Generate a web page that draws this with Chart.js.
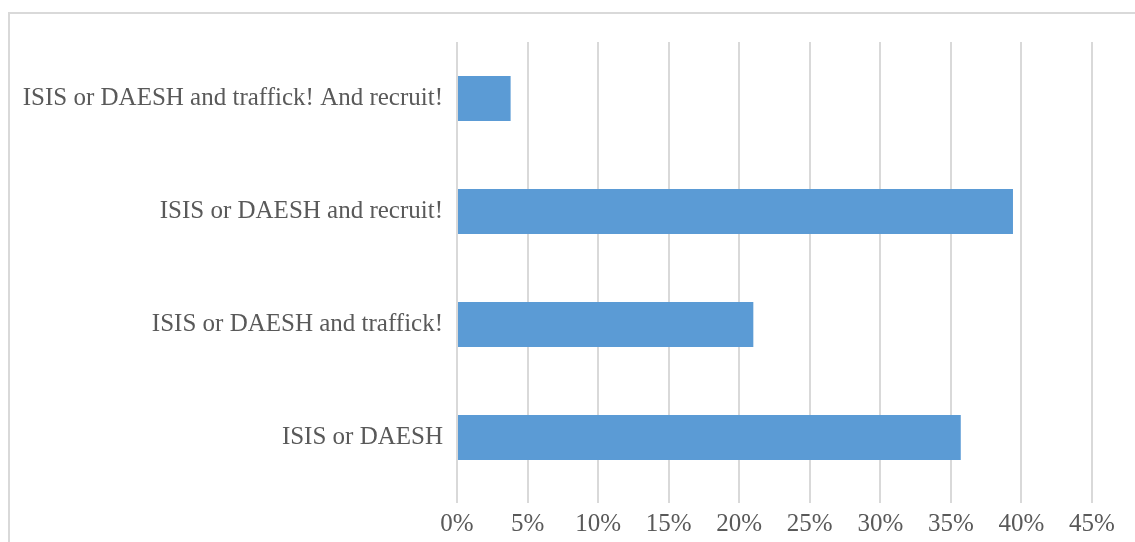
<!DOCTYPE html>
<html>
<head>
<meta charset="utf-8">
<script src="https://cdn.jsdelivr.net/npm/chart.js@4"></script>
<style>
  html, body { margin: 0; padding: 0; background: #fff; }
  #wrap { position: relative; width: 1135px; height: 542px; overflow: hidden; }
  #frame { position: absolute; left: 8px; top: 12px; width: 1200px; height: 600px; border: 2px solid #d9d9d9; }
  #c { position: absolute; left: 0; top: 0; }
</style>
</head>
<body>
<div id="wrap">
  <div id="frame"></div>
  <canvas id="c" width="1135" height="542"></canvas>
</div>
<script>
  // Werte (in Prozent)
  const categories = [
    'ISIS or DAESH and traffick! And recruit!',
    'ISIS or DAESH and recruit!',
    'ISIS or DAESH and traffick!',
    'ISIS or DAESH'
  ];
  const values = [3.8, 39.4, 21.0, 35.7];
  const tickMax = 45;
  const tickStep = 5;

  const ctx = document.getElementById('c').getContext('2d');
  new Chart(ctx, {
    type: 'bar',
    data: {
      labels: categories,
      datasets: [
        {
          data: values,
          backgroundColor: '#5b9bd5',
          borderWidth: 0,
          categoryPercentage: 0.8,
          barPercentage: 0.5,
        },
      ],
    },
    options: {
      indexAxis: 'y',
      responsive: false,
      animation: false,
      layout: { padding: { top: 42, right: 43, bottom: 0, left: 0 } },
      plugins: { legend: { display: false }, tooltip: { enabled: false } },
      scales: {
        x: {
          min: 0,
          max: tickMax,
          ticks: {
            stepSize: tickStep,
            padding: 6,
            color: '#595959',
            font: { family: 'Liberation Serif', size: 25 },
            callback: (v) => v + '%',
          },
          grid: { color: '#d9d9d9', lineWidth: 2, tickLength: 9, drawTicks: true },
          border: { display: false },
          afterFit: (scale) => { scale.height = 48; },
        },
        y: {
          ticks: {
            padding: 6,
            color: '#595959',
            font: { family: 'Liberation Serif', size: 25 },
          },
          grid: { display: false },
          border: { display: false },
          afterFit: (scale) => { scale.width = 457; },
        },
      },
    },
  });
</script>
</body>
</html>
